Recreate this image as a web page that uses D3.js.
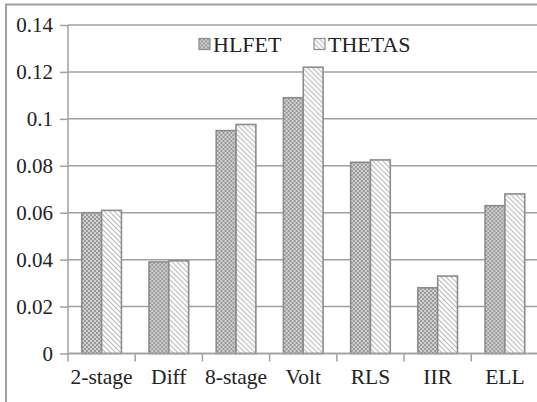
<!DOCTYPE html>
<html>
<head>
<meta charset="utf-8">
<script src="https://cdn.jsdelivr.net/npm/d3@7"></script>
<style>
  html, body { margin: 0; padding: 0; background: #fff; }
  svg { display: block; font-family: "Liberation Serif", "Times New Roman", serif; }
</style>
</head>
<body>
<div id="chart"></div>
<script>
const categories = ['2-stage', 'Diff', '8-stage', 'Volt', 'RLS', 'IIR', 'ELL'];
const series = ['HLFET', 'THETAS'];
const hlfet = [0.060, 0.039, 0.095, 0.109, 0.0815, 0.028, 0.063];
const thetas = [0.061, 0.0395, 0.0976, 0.122, 0.0825, 0.033, 0.068];
const yTicks = [0, 0.02, 0.04, 0.06, 0.08, 0.1, 0.12, 0.14];

const width = 537, height = 402;
const plot = { left: 68, right: 538.5, top: 25, bottom: 353.5 };
const serif = '"Liberation Serif", "Times New Roman", serif';

const svg = d3.select('#chart').append('svg')
    .attr('width', width)
    .attr('height', height);

// patterns for the two series
const defs = svg.append('defs');
const dots = defs.append('pattern')
    .attr('id', 'pat-hlfet')
    .attr('patternUnits', 'userSpaceOnUse')
    .attr('width', 4).attr('height', 4);
dots.append('rect').attr('width', 4).attr('height', 4).attr('fill', '#d2d2d2');
dots.append('rect').attr('width', 2).attr('height', 2).attr('fill', '#9a9a9a');
dots.append('rect').attr('x', 2).attr('y', 2).attr('width', 2).attr('height', 2).attr('fill', '#9a9a9a');

const hatch = defs.append('pattern')
    .attr('id', 'pat-thetas')
    .attr('patternUnits', 'userSpaceOnUse')
    .attr('width', 5).attr('height', 5);
hatch.append('rect').attr('width', 5).attr('height', 5).attr('fill', '#fff');
hatch.append('path')
    .attr('d', 'M0,0 L5,5 M-1,4 L1,6 M4,-1 L6,1')
    .attr('stroke', '#b8b8b8')
    .attr('stroke-width', 1.1);

const fills = { HLFET: 'url(#pat-hlfet)', THETAS: 'url(#pat-thetas)' };

// outer frame (chart is cropped on right and bottom)
svg.append('path')
    .attr('d', `M6,${height} L6,4.5 L${width},4.5`)
    .attr('fill', 'none')
    .attr('stroke', '#a0a0a0')
    .attr('stroke-width', 2);

const x = d3.scaleBand()
    .domain(categories)
    .range([plot.left, plot.right]);

const x1 = d3.scaleBand()
    .domain(series)
    .range([x.bandwidth() * 0.205, x.bandwidth() * 0.795]);

const y = d3.scaleLinear()
    .domain([0, 0.14])
    .range([plot.bottom, plot.top]);

// gridlines + y axis
const yAxis = svg.append('g')
    .attr('transform', `translate(${plot.left},0)`)
    .call(d3.axisLeft(y).tickValues(yTicks).tickSize(8).tickPadding(7)
        .tickFormat(d => d === 0 ? '0' : String(+d.toFixed(2))));
yAxis.attr('font-family', serif).attr('font-size', 21);
yAxis.select('.domain').remove();
yAxis.selectAll('.tick line').attr('stroke', '#a0a0a0').attr('stroke-width', 1.5);
yAxis.selectAll('.tick text').attr('fill', '#222');

svg.append('g')
    .selectAll('line')
    .data(yTicks)
    .join('line')
    .attr('x1', plot.left)
    .attr('x2', width)
    .attr('y1', d => y(d))
    .attr('y2', d => y(d))
    .attr('stroke', '#a0a0a0')
    .attr('stroke-width', 1.5);

svg.append('line')
    .attr('x1', plot.left).attr('x2', plot.left)
    .attr('y1', plot.top).attr('y2', plot.bottom)
    .attr('stroke', '#a0a0a0')
    .attr('stroke-width', 1.5);

// bars
const rows = categories.map((c, i) => ({ cat: c, HLFET: hlfet[i], THETAS: thetas[i] }));

svg.append('g')
    .selectAll('g')
    .data(rows)
    .join('g')
    .attr('transform', d => `translate(${x(d.cat)},0)`)
    .selectAll('rect')
    .data(d => series.map(s => ({ key: s, value: d[s] })))
    .join('rect')
    .attr('x', d => x1(d.key))
    .attr('width', x1.bandwidth())
    .attr('y', d => y(d.value))
    .attr('height', d => y(0) - y(d.value))
    .attr('fill', d => fills[d.key])
    .attr('stroke', '#8c8c8c')
    .attr('stroke-width', 1.6);

// x axis
const xAxis = svg.append('g')
    .attr('transform', `translate(0,${plot.bottom})`)
    .call(d3.axisBottom(x).tickSize(0).tickPadding(15));
xAxis.attr('font-family', serif).attr('font-size', 21.5);
xAxis.select('.domain').remove();
xAxis.selectAll('.tick text').attr('fill', '#222');

svg.append('line')
    .attr('x1', plot.left).attr('x2', width)
    .attr('y1', plot.bottom).attr('y2', plot.bottom)
    .attr('stroke', '#a0a0a0')
    .attr('stroke-width', 1.5);

svg.append('g')
    .selectAll('line')
    .data(categories.map(c => x(c)).concat([plot.right]))
    .join('line')
    .attr('x1', d => d).attr('x2', d => d)
    .attr('y1', plot.bottom).attr('y2', plot.bottom + 8)
    .attr('stroke', '#a0a0a0')
    .attr('stroke-width', 1.5);

// legend
const legend = svg.append('g').attr('class', 'legend');
const legendX = [199, 314];
series.forEach((s, i) => {
    const row = legend.append('g').attr('transform', `translate(${legendX[i]},38.5)`);
    row.append('rect')
        .attr('width', 11).attr('height', 11)
        .attr('fill', fills[s])
        .attr('stroke', '#8c8c8c')
        .attr('stroke-width', 1.2);
    row.append('text')
        .attr('x', 14)
        .attr('y', 5.5)
        .attr('dy', '0.35em')
        .attr('fill', '#222')
        .style('font-size', '22px')
        .text(s);
});
</script>
</body>
</html>
